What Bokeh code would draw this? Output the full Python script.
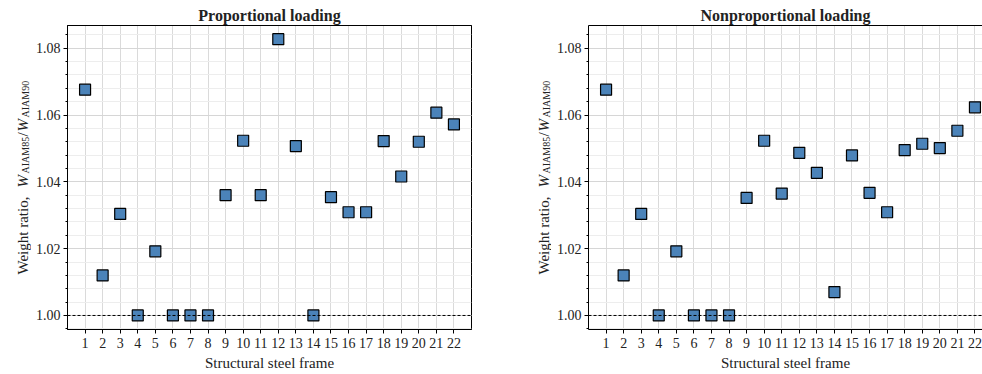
import math
from bokeh.plotting import figure
from bokeh.layouts import row
from bokeh.models import FixedTicker, Span, LinearAxis, Range1d, PrintfTickFormatter
from bokeh.core.properties import value
from bokeh.embed import file_html
from bokeh.resources import INLINE

# ---- data ----
frames = list(range(1, 23))
x_tick_labels = [str(i) for i in frames]
prop = [1.0676, 1.0120, 1.0304, 1.0000, 1.0192, 1.0000, 1.0000, 1.0000, 1.0360, 1.0523,
        1.0360, 1.0827, 1.0507, 1.0000, 1.0354, 1.0309, 1.0309, 1.0522, 1.0416, 1.0520,
        1.0607, 1.0572]
nonprop = [1.0676, 1.0120, 1.0304, 1.0000, 1.0192, 1.0000, 1.0000, 1.0000, 1.0352, 1.0523,
           1.0365, 1.0487, 1.0427, 1.0070, 1.0479, 1.0367, 1.0309, 1.0495, 1.0514, 1.0501,
           1.0553, 1.0623]
titles = ["Proportional loading", "Nonproportional loading"]
y_ticks = [1.00, 1.02, 1.04, 1.06, 1.08]
y_minor = [0.996 + 0.004 * i for i in range(23)]
reference_ratio = 1.0
x_label = "Structural steel frame"
y_label_parts = ["Weight ratio, ", "W", "AIAM85", "/", "W", "AIAM90"]

FONT = "Liberation Serif"
MARKER = "#4b83b9"
TXT = "#222222"
H = 374
TOP, BOTTOM = 25, 45


def make(title, values, width, x_end, bl, br):
    p = figure(width=width, height=H, x_range=Range1d(0, x_end),
               y_range=Range1d(0.9958, 1.0868), output_backend="svg",
               toolbar_location=None, min_border_left=bl, min_border_right=br,
               min_border_top=TOP, min_border_bottom=BOTTOM,
               background_fill_color="white", border_fill_color="white")
    p.title.text = title
    p.title.text_font = FONT
    p.title.text_font_size = "16px"
    p.title.text_font_style = "bold"
    p.title.text_color = TXT
    p.title.align = "center"
    p.title.standoff = 3
    p.title.offset = 0

    xax = p.below[0]
    yax = p.left[0]

    xt = FixedTicker(ticks=frames)
    xax.ticker = xt
    p.xgrid.ticker = xt
    xax.major_label_overrides = {f: s for f, s in zip(frames, x_tick_labels)}
    xax.minor_tick_line_color = None
    xax.major_tick_in = 0
    xax.major_tick_out = 4
    xax.major_label_standoff = 4
    xax.axis_label = x_label
    xax.axis_label_standoff = 4
    xax.axis_label_text_font = FONT
    xax.axis_label_text_font_size = "15px"
    xax.axis_label_text_font_style = "normal"
    xax.axis_label_text_color = TXT

    yt = FixedTicker(ticks=y_ticks, minor_ticks=y_minor)
    yax.ticker = yt
    p.ygrid.ticker = yt
    yax.formatter = PrintfTickFormatter(format="%.2f")
    yax.major_tick_in = 0
    yax.major_tick_out = 4
    yax.minor_tick_in = 0
    yax.minor_tick_out = 2
    yax.minor_tick_line_color = "black"
    yax.major_label_standoff = 3

    for ax in (xax, yax):
        ax.major_label_text_font = FONT
        ax.major_label_text_font_size = "14px"
        ax.major_label_text_color = TXT
        ax.axis_line_color = "black"
        ax.major_tick_line_color = "black"

    top = LinearAxis(ticker=FixedTicker(ticks=[]), major_tick_line_color=None,
                     minor_tick_line_color=None, major_label_text_font_size="0px",
                     major_tick_out=0, major_tick_in=0, major_label_standoff=0,
                     axis_label_standoff=0,
                     axis_line_color="black", axis_line_width=1)
    p.add_layout(top, "above")

    p.xgrid.grid_line_color = "#dadada"
    p.ygrid.grid_line_color = "#d6d6d6"
    p.ygrid.minor_grid_line_color = "#ededed"
    p.outline_line_color = "black"
    p.outline_line_width = 1

    span = Span(location=reference_ratio, dimension="width", line_color="black",
                line_dash="3 2", line_width=1, level="glyph")
    p.add_layout(span)

    p.scatter(frames, values, marker="square", size=11, fill_color=MARKER,
              line_color="black", line_width=1.2)
    return p


def ylabel_fig(width, bx):
    # frame spans canvas rows TOP..H-BOTTOM; data y = H - canvas_y
    f = figure(width=width, height=H, x_range=Range1d(0, width),
               y_range=Range1d(BOTTOM, H - TOP),
               output_backend="svg", toolbar_location=None, min_border=0,
               min_border_top=TOP, min_border_bottom=BOTTOM,
               x_axis_location=None, y_axis_location=None, title=None,
               background_fill_color="white", border_fill_color="white")
    f.grid.visible = False
    f.outline_line_color = None
    # (text, baseline x, start y measured up from bottom, size, style)
    pieces = [
        (y_label_parts[0], bx, H - 274, "15px", "normal"),
        (y_label_parts[1], bx, H - 187, "15px", "italic"),
        (y_label_parts[2], bx + 3, H - 173, "10px", "normal"),
        (y_label_parts[3], bx, H - 136, "15px", "normal"),
        (y_label_parts[4], bx, H - 131, "15px", "italic"),
        (y_label_parts[5], bx + 3, H - 117, "10px", "normal"),
    ]
    for txt, x, y, fs, st in pieces:
        f.text(x=[x], y=[y], text=[txt], angle=math.pi / 2,
               text_font=value(FONT), text_font_size=value(fs),
               text_font_style=st, text_color=TXT,
               text_baseline="alphabetic", text_align="left")
    return f


lab1 = ylabel_fig(31, 22)
p1 = make(titles[0], prop, 460, 23.0, 36, 20)
lab2 = ylabel_fig(60, 52)
p2 = make(titles[1], nonprop, 431, 22.43, 37, 0)
p2.outline_line_color = None

layout = row(lab1, p1, lab2, p2, spacing=0)
open("out.html", "w").write(file_html(layout, INLINE))
